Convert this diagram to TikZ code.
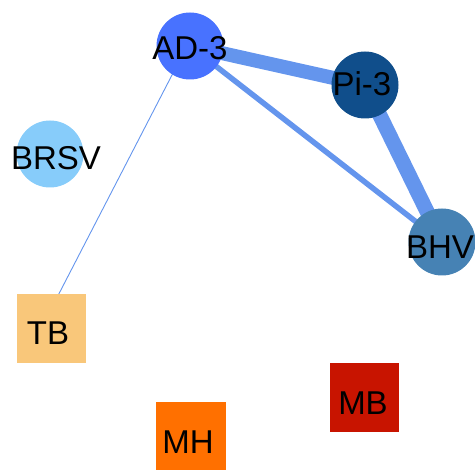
\documentclass[tikz,border=0pt]{standalone}
\usepackage{fontspec}
\setmainfont{Liberation Sans}
\usetikzlibrary{backgrounds}
\definecolor{cad}{RGB}{72,114,255}
\definecolor{cpi}{RGB}{16,78,139}
\definecolor{cbrsv}{RGB}{135,204,250}
\definecolor{cbhv}{RGB}{70,130,180}
\definecolor{ctb}{RGB}{249,199,122}
\definecolor{cmh}{RGB}{255,112,0}
\definecolor{cmb}{RGB}{200,20,0}
\definecolor{cedge}{RGB}{100,149,237}
\tikzset{
  circ/.style={circle, minimum size=67pt, inner sep=0pt, draw=none},
  sq/.style={rectangle, minimum size=69pt, inner sep=0pt, draw=none},
  lbl/.style={inner sep=0pt, font=\fontsize{33}{33}\selectfont, text=black},
  edge/.style={draw=cedge, line cap=butt},
}
\begin{document}
\begin{tikzpicture}[x=1pt,y=-1pt]
\useasboundingbox (0,0) rectangle (475,470);
% shapes
\node[circ, fill=cad] (ad) at (190,46) {};
\node[circ, fill=cpi] (pi) at (365,85) {};
\node[circ, fill=cbrsv] (brsv) at (50,154) {};
\node[circ, fill=cbhv] (bhv) at (442,242) {};
\node[sq, fill=ctb] (tb) at (51.5,328.5) {};
\node[sq, fill=cmh, minimum size=70pt] (mh) at (191,437) {};
\node[sq, fill=cmb] (mb) at (364.5,398) {};
% labels
\node[lbl] (adl) at (190,48) {AD-3};
\node[lbl] (pil) at (362,84) {Pi-3};
\node[lbl] (brsvl) at (56,158) {BRSV};
\node[lbl] (bhvl) at (440,247) {BHV};
\node[lbl] (tbl) at (48,333) {TB};
\node[lbl] (mhl) at (188,442) {MH};
\node[lbl] (mbl) at (363,403) {MB};
% edges
\begin{scope}[on background layer]
\draw[edge, line width=14pt] (ad.center) -- (pi.center);
\draw[edge, line width=15pt] (pi.center) -- (bhv.center);
\draw[edge, line width=5.5pt] (ad.center) -- (bhv.center);
\draw[edge, line width=0.9pt] ([xshift=-3pt]ad.center) -- ([xshift=-10.5pt]tb.center);
\end{scope}
\end{tikzpicture}
\end{document}
